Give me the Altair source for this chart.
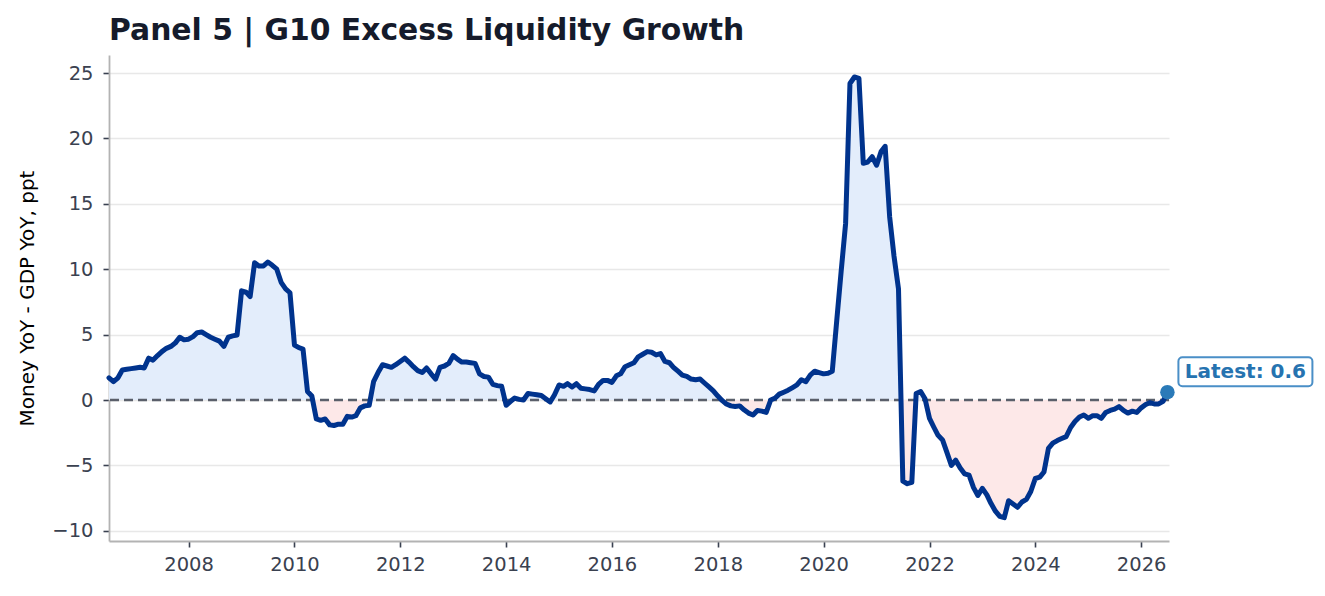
import altair as alt
import pandas as pd

# ---- data: monthly "Money YoY - GDP YoY" spread (ppt), starting 2006-07 ----
START = "2006-07-01"
v_2006_2009 = [1.7, 1.4, 1.7, 2.3, 2.35, 2.4, 2.45, 2.5, 2.45, 3.2, 3.05, 3.4,
               3.7, 3.95, 4.1, 4.35, 4.8, 4.6, 4.65, 4.85, 5.15, 5.2, 5.0, 4.8,
               4.65, 4.5, 4.1, 4.8, 4.9, 4.97, 8.35, 8.25, 7.9, 10.5, 10.25, 10.25,
               10.55, 10.3, 10.0, 9.0, 8.5, 8.2]
v_2010_2013 = [4.2, 4.0, 3.9, 0.65, 0.3, -1.45, -1.55, -1.45, -1.9, -1.95, -1.85, -1.85,
               -1.25, -1.3, -1.2, -0.6, -0.45, -0.4, 1.4, 2.1, 2.7, 2.6, 2.5, 2.7,
               2.95, 3.2, 2.9, 2.55, 2.25, 2.1, 2.45, 2.0, 1.6, 2.5, 2.6, 2.8,
               3.4, 3.1, 2.9, 2.9, 2.85, 2.8, 2.0, 1.8, 1.75, 1.2, 1.1, 1.05]
v_2014_2017 = [-0.4, -0.1, 0.15, 0.05, 0.0, 0.5, 0.45, 0.4, 0.35, 0.1, -0.15, 0.4,
               1.15, 1.05, 1.25, 1.0, 1.25, 0.9, 0.85, 0.8, 0.7, 1.2, 1.5, 1.5,
               1.35, 1.85, 2.0, 2.55, 2.7, 2.85, 3.3, 3.5, 3.7, 3.65, 3.45, 3.55,
               2.95, 2.85, 2.5, 2.2, 1.9, 1.8, 1.6, 1.55, 1.6, 1.3, 1.0, 0.7]
v_2018_2021 = [0.3, -0.05, -0.3, -0.45, -0.5, -0.45, -0.75, -1.0, -1.15, -0.8, -0.85, -0.95,
               0.0, 0.15, 0.45, 0.6, 0.75, 0.95, 1.15, 1.55, 1.4, 1.9, 2.2, 2.1,
               2.0, 2.05, 2.2, 6.1, 9.8, 13.5, 24.2, 24.7, 24.6, 18.1, 18.2, 18.6,
               17.95, 19.0, 19.4, 14.0, 11.0, 8.5, -6.2, -6.4, -6.3, 0.5, 0.65, 0.1]
v_2022_2026 = [-1.4, -2.1, -2.7, -3.05, -4.0, -5.0, -4.6, -5.2, -5.65, -5.75, -6.7, -7.3,
               -6.75, -7.25, -7.9, -8.5, -8.9, -9.0, -7.7, -7.95, -8.2, -7.8, -7.6, -7.0,
               -6.0, -5.9, -5.5, -3.7, -3.3, -3.1, -2.95, -2.8, -2.1, -1.65, -1.3, -1.15,
               -1.4, -1.2, -1.2, -1.4, -0.95, -0.8, -0.7, -0.5, -0.8, -1.0, -0.85, -0.95,
               -0.6, -0.35, -0.2, -0.3, -0.3, -0.1, 0.6]

Y_TICKS = [-10, -5, 0, 5, 10, 15, 20, 25]
X_TICK_YEARS = list(range(2008, 2027, 2))

values = v_2006_2009 + v_2010_2013 + v_2014_2017 + v_2018_2021 + v_2022_2026
dates = pd.date_range(START, periods=len(values), freq="MS")
df = pd.DataFrame({"date": dates, "value": values})

# fill boundary: same points plus the zero crossings so the shading meets the line
rows = []
for i, (d, v) in enumerate(zip(dates, values)):
    rows.append((d, v))
    if i < len(values) - 1:
        v2 = values[i + 1]
        if (v > 0 > v2) or (v < 0 < v2):
            frac = v / (v - v2)
            rows.append((d + (dates[i + 1] - d) * frac, 0.0))
fill = pd.DataFrame(rows, columns=["date", "value"])
fill["pos"] = fill["value"].clip(lower=0)
fill["neg"] = fill["value"].clip(upper=0)

zero_df = pd.DataFrame({"value": [0.0]})
latest = df.tail(1)

FONT = "DejaVu Sans"
x_scale = alt.Scale(domain=[alt.DateTime(year=2006, month=7, date=1),
                            alt.DateTime(year=2026, month=7, date=12)])
y_scale = alt.Scale(domain=[-10.78, 26.38], nice=False, zero=False)

x_axis = alt.Axis(values=[alt.DateTime(year=y, month=1, date=1) for y in X_TICK_YEARS],
                  format="%Y", title=None, grid=False, labelPadding=8)
y_axis = alt.Axis(values=Y_TICKS, title="Money YoY - GDP YoY, ppt", grid=True,
                  labelPadding=10, titleX=-82, titleY=243, titleAngle=270,
                  titleAlign="center", titleBaseline="middle",
                  titleFontSize=20, titleFontWeight="normal", titleColor="#000000")

def xe(field="date"):
    return alt.X(f"{field}:T", scale=x_scale, axis=x_axis)

def ye(field="value"):
    return alt.Y(f"{field}:Q", scale=y_scale, axis=y_axis)

pos_area = alt.Chart(fill).mark_area(color="#e3edfb", opacity=1).encode(
    x=xe(), y=ye("pos"), y2=alt.datum(0))
neg_area = alt.Chart(fill).mark_area(color="#fde8e8", opacity=1).encode(
    x=xe(), y=ye("neg"), y2=alt.datum(0))

zero_rule = alt.Chart(zero_df).mark_rule(
    color="#5a5f6a", strokeWidth=2.4, strokeDash=[9, 5]).encode(y=ye())

line = alt.Chart(df).mark_line(
    color="#00338d", strokeWidth=5, strokeJoin="round", strokeCap="round").encode(
    x=xe(), y=ye())

dot = alt.Chart(latest).mark_circle(size=210, color="#2a7ab8", opacity=1).encode(
    x=xe(), y=ye())

box = alt.Chart(latest).mark_rect(
    fill="white", stroke="#4a8fc7", strokeWidth=2, cornerRadius=4,
    xOffset=11, x2Offset=145, yOffset=-35, y2Offset=-6).encode(
    x=xe(), x2="date:T", y=ye(), y2="value:Q")

label = alt.Chart(latest).transform_calculate(
    label="'Latest: ' + format(datum.value, '.1f')").mark_text(
    dx=78, dy=-20, align="center", baseline="middle", fontSize=20,
    fontWeight="bold", color="#2673b0", font=FONT).encode(
    x=xe(), y=ye(), text="label:N")

chart = alt.layer(pos_area, neg_area, zero_rule, line, dot, box, label).properties(
    width=1060, height=486,
    title=alt.TitleParams("Panel 5 | G10 Excess Liquidity Growth", anchor="start",
                          frame="group", fontSize=29.8, font=FONT, fontWeight="bold",
                          color="#151b2b", offset=-15, baseline="alphabetic"),
    autosize=alt.AutoSizeParams(type="none"),
    padding={"left": 109, "top": 55, "right": 156, "bottom": 55},
).configure(font=FONT, background="white").configure_view(stroke=None).configure_axis(
    labelFont=FONT, titleFont=FONT, labelFontSize=19.5, labelColor="#3a4150",
    domainColor="#b3b3b3", domainWidth=1.8, tickColor="#3a4150", tickSize=6,
    tickWidth=1.6, gridColor="#e8e8e8", gridWidth=1.5)

chart.save("out.html", embed_options={"renderer": "svg", "actions": False})
